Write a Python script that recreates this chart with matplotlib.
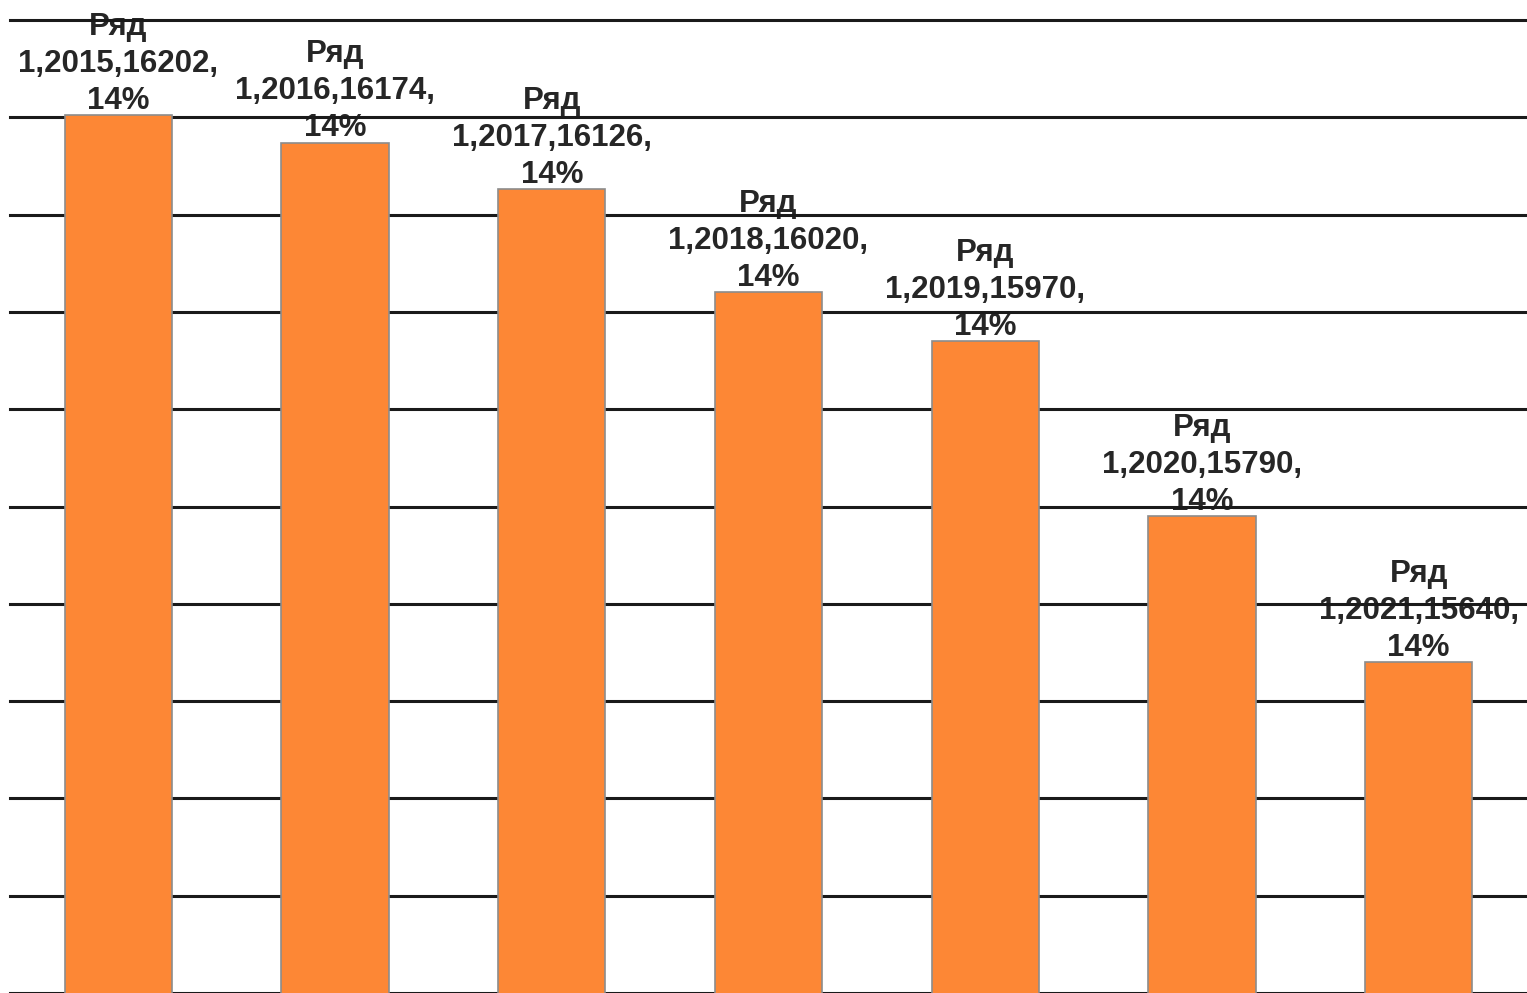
import matplotlib
matplotlib.use("Agg")
import matplotlib.pyplot as plt

years = [2015, 2016, 2017, 2018, 2019, 2020, 2021]
values = [16202, 16174, 16126, 16020, 15970, 15790, 15640]
shares = ["14%"] * 7
series_name = "Ряд"
series_no = 1

W, H = 1527, 993
fig = plt.figure(figsize=(W / 100, H / 100), dpi=100)
ax = fig.add_axes([10 / W, 0.0, 1 - 10 / W, 973 / H])

x = list(range(len(years)))
ax.bar(x, values, width=0.495, color="#fd8735", edgecolor="#8c8c8c",
       linewidth=1.2, zorder=3)

ax.set_xlim(-0.5, len(years) - 0.5)
ax.set_ylim(15300, 16300)
ax.set_yticks(range(15300, 16301, 100))
ax.yaxis.grid(True, color="#1a1a1a", linewidth=2.2, zorder=2)
for gl in ax.get_ygridlines():
    gl.set_clip_on(False)
ax.set_axisbelow(False)
ax.tick_params(left=False, bottom=False, labelleft=False, labelbottom=False)
for s in ["left", "right", "top"]:
    ax.spines[s].set_visible(False)
ax.spines["bottom"].set_color("#9a9a9a")
ax.spines["bottom"].set_linewidth(2)

for xi, yr, v, sh in zip(x, years, values, shares):
    label = f"{series_name}\n{series_no},{yr},{v},\n{sh}"
    ax.annotate(label, (xi, v), xytext=(0, -0.5), textcoords="offset points",
                ha="center", va="bottom", multialignment="center",
                fontsize=22.5, family="Liberation Sans", weight="bold",
                color="#262626", linespacing=1.3, zorder=1,
                annotation_clip=False)

fig.savefig("out.png", dpi=100)
